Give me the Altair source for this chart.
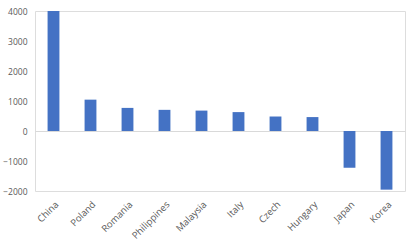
import altair as alt
import pandas as pd

countries = ["China", "Poland", "Romania", "Philippines", "Malaysia", "Italy", "Czech", "Hungary", "Japan", "Korea"]
values = [4000, 1045, 770, 705, 680, 630, 483, 464, -1225, -1955]
y_ticks = [-2000, -1000, 0, 1000, 2000, 3000, 4000]

df = pd.DataFrame({"country": countries, "value": values})

x = alt.X("country:N", sort=countries, title=None,
          scale=alt.Scale(paddingInner=0.68, paddingOuter=0.34),
          axis=alt.Axis(labelAngle=-45, labelFontSize=9.5, labelColor="#595959",
                        labelFont="Open Sans", ticks=False, domain=False, labelPadding=8,
                        labelOverlap=False, grid=False))
y = alt.Y("value:Q", title=None,
          scale=alt.Scale(domain=[-2000, 4000], nice=False),
          axis=alt.Axis(values=y_ticks, format="d", labelFontSize=8.5,
                        labelColor="#595959", labelFont="Open Sans", ticks=False, domain=False,
                        grid=True, gridWidth=1,
                        gridColor={"condition": {"test": "datum.value === 0", "value": "#d9d9d9"},
                                   "value": "transparent"},
                        labelPadding=8, labelOverlap=False))

chart = alt.Chart(df).mark_bar(color="#4472C4").encode(x=x, y=y).properties(
    width=370, height=180,
    autosize=alt.AutoSizeParams(type="none"),
    padding={"left": 35, "top": 11, "right": 10, "bottom": 57},
).configure_view(strokeWidth=0).configure(background="white")

chart.save("out.html", embed_options={"renderer": "svg", "actions": False})
